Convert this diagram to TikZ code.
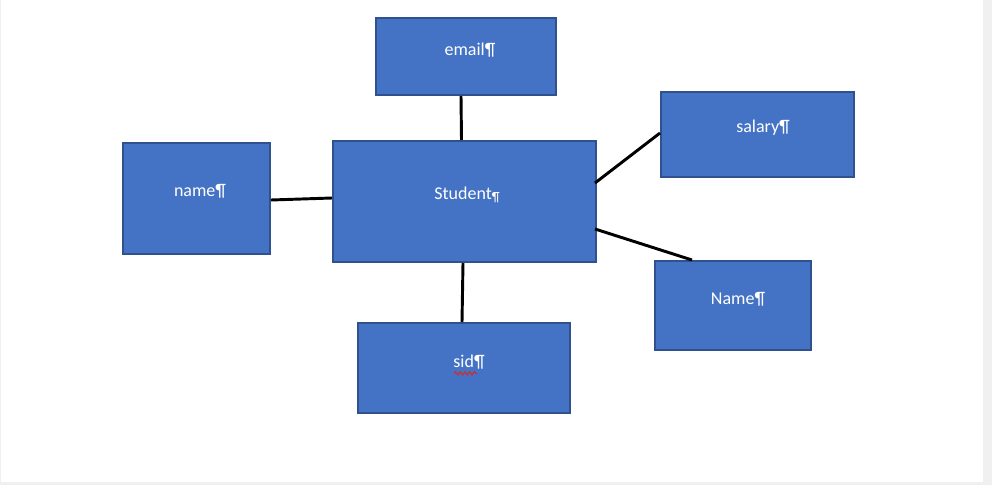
\documentclass[tikz,border=0pt]{standalone}
\usepackage{fontspec}
\setmainfont{Carlito}
\usetikzlibrary{calc,decorations.pathmorphing}
\definecolor{boxfill}{HTML}{4472C4}
\definecolor{boxline}{HTML}{2F528F}
\definecolor{pagegray}{HTML}{F0F0F0}
\definecolor{spellred}{HTML}{D42A2A}
\newcommand{\pilc}{\raisebox{-0.15ex}{\fontsize{10}{10}\selectfont\P}}
\begin{document}
\begin{tikzpicture}[x=0.75pt, y=-0.75pt,
    attr/.style={draw=boxline, fill=boxfill, line width=1.5pt, rectangle, inner sep=0pt},
    lbl/.style={text=white, font=\fontsize{13.5}{16}\selectfont, inner sep=0pt},
    link/.style={line width=2.2pt, black}]
  % page
  \fill[pagegray] (0,0) rectangle (992,485);
  \fill[white] (1,0) rectangle (983,482);
  \useasboundingbox (0,0) rectangle (992,485);

  % boxes
  \node[attr, minimum width=180*0.75pt, minimum height=77*0.75pt] (email) at (466,56.5) {};
  \node[attr, minimum width=263*0.75pt, minimum height=121*0.75pt] (Student) at (464.5,201.5) {};
  \node[attr, minimum width=193*0.75pt, minimum height=85*0.75pt] (salary) at (757.5,134.5) {};
  \node[attr, minimum width=147*0.75pt, minimum height=111*0.75pt] (name) at (196.5,198.5) {};
  \node[attr, minimum width=156*0.75pt, minimum height=89*0.75pt] (Name) at (733,305.5) {};
  \node[attr, minimum width=212*0.75pt, minimum height=90*0.75pt] (sid) at (464,368) {};

  % labels
  \node[lbl] (emailtxt) at (470,50) {email\P};
  \node[lbl] (studenttxt) at (467,195) {Student\pilc};
  \node[lbl] (salarytxt) at (763,128) {salary\P};
  \node[lbl] (nametxt) at (200,191) {name\P};
  \node[lbl] (Nametxt) at (738,299) {Name\P};
  \node[lbl] (sidtxt) at (469,362) {sid\P};
  \draw[spellred, line width=0.8pt, decorate, decoration={snake, amplitude=1.2pt, segment length=3.5pt}]
    ($(sidtxt.south west)+(1,4)$) -- ($(sidtxt.south west)+(24,4)$);

  % connectors
  \draw[link] ($(email.south)+(-5,0)$) -- ($(Student.north)+(-3,0)$);
  \draw[link] ($(name.east)+(0,1.5)$) -- ($(Student.west)+(0,-3.5)$);
  \draw[link] ($(Student.east)+(-2,-18.5)$) -- ($(salary.west)+(0,-1.5)$);
  \draw[link] ($(Student.east)+(-2,27.5)$) -- ($(Name.north)+(-41,0)$);
  \draw[link] ($(Student.south)+(-1.5,0)$) -- ($(sid.north)+(-2,0)$);
\end{tikzpicture}
\end{document}
